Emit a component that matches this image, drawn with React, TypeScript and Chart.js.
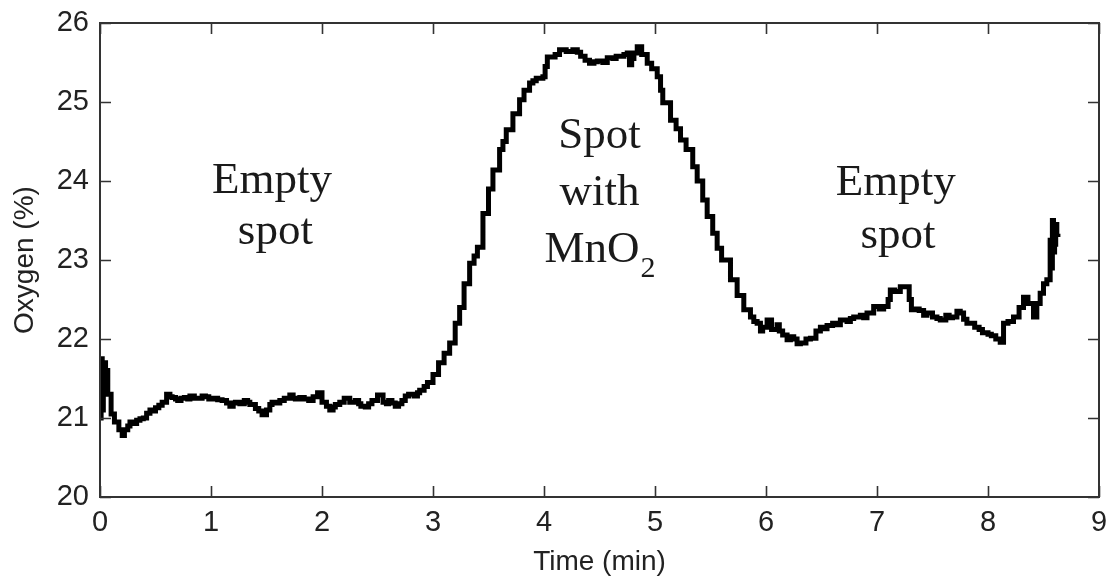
import React, { useEffect, useRef } from "react";
import { Chart, registerables } from "chart.js";

Chart.register(...registerables);

const timeMin: number[] = [
  0.0, 0.01, 0.02, 0.03, 0.05, 0.07, 0.1, 0.13, 0.17, 0.2, 0.22, 0.25, 0.27, 0.3, 0.33, 0.36, 0.39, 0.42, 0.45, 0.48,
  0.5, 0.53, 0.56, 0.6, 0.63, 0.65, 0.68, 0.7, 0.73, 0.76, 0.79, 0.81, 0.85, 0.88, 0.92, 0.95, 0.98, 1.02, 1.06, 1.1,
  1.14, 1.17, 1.2, 1.22, 1.26, 1.3, 1.33, 1.35, 1.4, 1.43, 1.46, 1.5, 1.53, 1.55, 1.59, 1.62, 1.66, 1.71, 1.74, 1.76,
  1.8, 1.84, 1.88, 1.92, 1.96, 2.0, 2.04, 2.07, 2.1, 2.12, 2.16, 2.2, 2.25, 2.3, 2.33, 2.35, 2.39, 2.42, 2.45, 2.5,
  2.55, 2.58, 2.6, 2.63, 2.66, 2.69, 2.72, 2.75, 2.78, 2.83, 2.86, 2.88, 2.92, 2.95, 3.0, 3.05, 3.1, 3.15, 3.2, 3.24,
  3.28, 3.33, 3.37, 3.4, 3.45, 3.5, 3.54, 3.6, 3.63, 3.66, 3.72, 3.78, 3.82, 3.87, 3.9, 3.93, 3.99, 4.01, 4.03, 4.1,
  4.14, 4.2, 4.26, 4.3, 4.33, 4.37, 4.41, 4.45, 4.48, 4.53, 4.57, 4.62, 4.65, 4.72, 4.75, 4.77, 4.79, 4.81, 4.84, 4.88,
  4.93, 4.97, 5.02, 5.05, 5.07, 5.14, 5.19, 5.23, 5.28, 5.34, 5.38, 5.43, 5.47, 5.52, 5.56, 5.6, 5.68, 5.74, 5.8, 5.86,
  5.89, 5.92, 5.95, 5.97, 6.01, 6.05, 6.1, 6.12, 6.15, 6.19, 6.22, 6.25, 6.28, 6.31, 6.36, 6.4, 6.45, 6.49, 6.52, 6.55,
  6.6, 6.64, 6.67, 6.73, 6.76, 6.79, 6.85, 6.88, 6.91, 6.97, 7.02, 7.06, 7.1, 7.12, 7.16, 7.21, 7.27, 7.29, 7.31, 7.35,
  7.38, 7.42, 7.45, 7.5, 7.54, 7.57, 7.62, 7.65, 7.68, 7.72, 7.75, 7.78, 7.81, 7.88, 7.92, 7.95, 8.0, 8.03, 8.07, 8.11,
  8.14, 8.18, 8.23, 8.28, 8.32, 8.36, 8.41, 8.44, 8.47, 8.5, 8.53, 8.56, 8.57, 8.58, 8.59, 8.6, 8.61, 8.62, 8.63,
];

const oxygenPct: number[] = [
  21.0, 21.75, 21.1, 21.7, 21.6, 21.3, 21.05, 20.95, 20.85, 20.78, 20.85, 20.9, 20.95, 20.93, 20.97, 20.99, 21.0, 21.06, 21.1, 21.09,
  21.13, 21.16, 21.2, 21.3, 21.27, 21.26, 21.24, 21.22, 21.25, 21.26, 21.24, 21.28, 21.25, 21.25, 21.28, 21.27, 21.24, 21.25, 21.23, 21.22,
  21.19, 21.15, 21.19, 21.2, 21.18, 21.22, 21.2, 21.17, 21.12, 21.09, 21.04, 21.1, 21.17, 21.2, 21.19, 21.22, 21.25, 21.29, 21.25, 21.24,
  21.26, 21.24, 21.22, 21.27, 21.32, 21.2, 21.15, 21.1, 21.14, 21.17, 21.2, 21.25, 21.2, 21.22, 21.18, 21.15, 21.14, 21.18, 21.22, 21.29,
  21.2, 21.18, 21.22, 21.19, 21.15, 21.18, 21.22, 21.28, 21.3, 21.28, 21.32, 21.35, 21.4, 21.45, 21.55, 21.7, 21.82, 21.95, 22.2, 22.4,
  22.7, 22.96, 23.05, 23.16, 23.59, 23.9, 24.14, 24.4, 24.5, 24.65, 24.85, 25.03, 25.15, 25.24, 25.27, 25.3, 25.32, 25.45, 25.57, 25.6,
  25.66, 25.64, 25.66, 25.63, 25.58, 25.53, 25.49, 25.51, 25.52, 25.5, 25.56, 25.55, 25.58, 25.6, 25.62, 25.47, 25.55, 25.62, 25.7, 25.6,
  25.49, 25.42, 25.32, 25.15, 24.99, 24.77, 24.66, 24.52, 24.4, 24.18, 24.0, 23.76, 23.55, 23.34, 23.15, 23.0, 22.75, 22.55, 22.37, 22.28,
  22.22, 22.2, 22.1, 22.15, 22.24, 22.12, 22.18, 22.1, 22.05, 21.99, 22.03, 22.0, 21.94, 21.95, 22.0, 22.01, 22.1, 22.15, 22.13, 22.17,
  22.2, 22.18, 22.24, 22.22, 22.26, 22.28, 22.3, 22.27, 22.33, 22.41, 22.38, 22.41, 22.5, 22.62, 22.6, 22.66, 22.66, 22.5, 22.37, 22.38,
  22.36, 22.3, 22.33, 22.28, 22.26, 22.24, 22.3, 22.27, 22.28, 22.35, 22.33, 22.25, 22.2, 22.15, 22.12, 22.08, 22.06, 22.04, 22.0, 21.96,
  22.2, 22.22, 22.28, 22.4, 22.53, 22.45, 22.28, 22.45, 22.58, 22.7, 22.75, 23.25, 22.9, 23.5, 23.1, 23.2, 23.45, 23.3, 23.29,
];

const xTicks: number[] = [0, 1, 2, 3, 4, 5, 6, 7, 8, 9];
const yTicks: number[] = [20, 21, 22, 23, 24, 25, 26];

// annotation lines: text, x (min), y (%) of center baseline
const annotationText: string[] = ["Empty", "spot", "Spot", "with", "MnO", "Empty", "spot"];
const annotationX: number[] = [1.55, 1.58, 4.5, 4.5, 4.5, 7.17, 7.19];
const annotationY: number[] = [23.85, 23.2, 24.42, 23.7, 22.97, 23.82, 23.15];

const SANS = "'Liberation Sans', Arial, sans-serif";
const SERIF = "'Liberation Serif', 'Times New Roman', serif";

const framePlugin = {
  id: "frame",
  afterDraw(chart: any) {
    const { ctx, chartArea } = chart;
    const { left, right, top, bottom } = chartArea;
    const xs = chart.scales.x;
    const ys = chart.scales.y;
    ctx.save();
    ctx.strokeStyle = "#333";
    ctx.lineWidth = 2;
    ctx.strokeRect(left, top, right - left, bottom - top);
    ctx.lineWidth = 1.6;
    const tl = 11;
    ctx.beginPath();
    xTicks.forEach((v) => {
      const px = Math.round(xs.getPixelForValue(v)) + 0.5;
      ctx.moveTo(px, bottom);
      ctx.lineTo(px, bottom - tl);
      ctx.moveTo(px, top);
      ctx.lineTo(px, top + tl);
    });
    yTicks.forEach((v) => {
      const py = Math.round(ys.getPixelForValue(v)) + 0.5;
      ctx.moveTo(left, py);
      ctx.lineTo(left + tl, py);
      ctx.moveTo(right, py);
      ctx.lineTo(right - tl, py);
    });
    ctx.stroke();
    ctx.restore();
  },
};

const annotationPlugin = {
  id: "annotations",
  afterDatasetsDraw(chart: any) {
    const { ctx } = chart;
    const xs = chart.scales.x;
    const ys = chart.scales.y;
    ctx.save();
    ctx.fillStyle = "#1a1a1a";
    ctx.textBaseline = "alphabetic";
    const big = `45px ${SERIF}`;
    const small = `30px ${SERIF}`;
    annotationText.forEach((t, i) => {
      const px = xs.getPixelForValue(annotationX[i]);
      const py = ys.getPixelForValue(annotationY[i]);
      if (t === "MnO") {
        ctx.font = big;
        const w1 = ctx.measureText(t).width;
        ctx.font = small;
        const w2 = ctx.measureText("2").width;
        const start = px - (w1 + w2) / 2;
        ctx.font = big;
        ctx.textAlign = "left";
        ctx.fillText(t, start, py);
        ctx.font = small;
        ctx.fillText("2", start + w1 + 1, py + 15);
      } else {
        ctx.font = big;
        ctx.textAlign = "center";
        ctx.fillText(t, px, py);
      }
    });
    ctx.restore();
  },
};

export default function App() {
  const ref = useRef<HTMLCanvasElement | null>(null);
  useEffect(() => {
    document.body.style.margin = "0";
    if (!ref.current) return;
    const points = timeMin.map((t, i) => ({ x: t, y: oxygenPct[i] }));
    const chart = new Chart(ref.current, {
      type: "line",
      data: {
        datasets: [
          {
            data: points,
            borderColor: "#000",
            borderWidth: 5,
            pointRadius: 0,
            tension: 0,
            fill: false,
            stepped: true,
          },
        ],
      },
      options: {
        animation: false,
        responsive: false,
        maintainAspectRatio: false,
        layout: { padding: { left: 0, right: 9, top: 23, bottom: 0 } },
        plugins: { legend: { display: false }, tooltip: { enabled: false } },
        scales: {
          x: {
            type: "linear",
            min: 0,
            max: 9,
            afterFit(scale: any) {
              scale.height = 82;
              scale.paddingLeft = 0;
              scale.paddingRight = 0;
              scale.paddingTop = 0;
              scale.paddingBottom = 0;
            },
            afterBuildTicks(scale: any) {
              scale.ticks = xTicks.map((v) => ({ value: v }));
            },
            grid: { display: false, drawTicks: false, tickLength: 0 },
            border: { display: false },
            ticks: {
              padding: 9,
              color: "#222",
              font: { family: SANS, size: 29 },
              maxRotation: 0,
              autoSkip: false,
            },
            title: {
              display: true,
              text: "Time (min)",
              color: "#222",
              font: { family: SANS, size: 28 },
              padding: { top: 0, bottom: 0 },
            },
          },
          y: {
            type: "linear",
            min: 20,
            max: 26,
            afterFit(scale: any) {
              scale.width = 100;
              scale.paddingLeft = 0;
              scale.paddingRight = 0;
              scale.paddingTop = 0;
              scale.paddingBottom = 0;
            },
            afterBuildTicks(scale: any) {
              scale.ticks = yTicks.map((v) => ({ value: v }));
            },
            grid: { display: false, drawTicks: false, tickLength: 0 },
            border: { display: false },
            ticks: {
              padding: 11,
              color: "#222",
              font: { family: SANS, size: 29 },
              autoSkip: false,
            },
            title: {
              display: true,
              text: "Oxygen (%)",
              color: "#222",
              font: { family: SANS, size: 28 },
              padding: { top: 8, bottom: 0 },
            },
          },
        },
      },
      plugins: [framePlugin, annotationPlugin],
    });
    return () => chart.destroy();
  }, []);
  return <canvas ref={ref} width={1108} height={579} style={{ display: "block" }} />;
}
